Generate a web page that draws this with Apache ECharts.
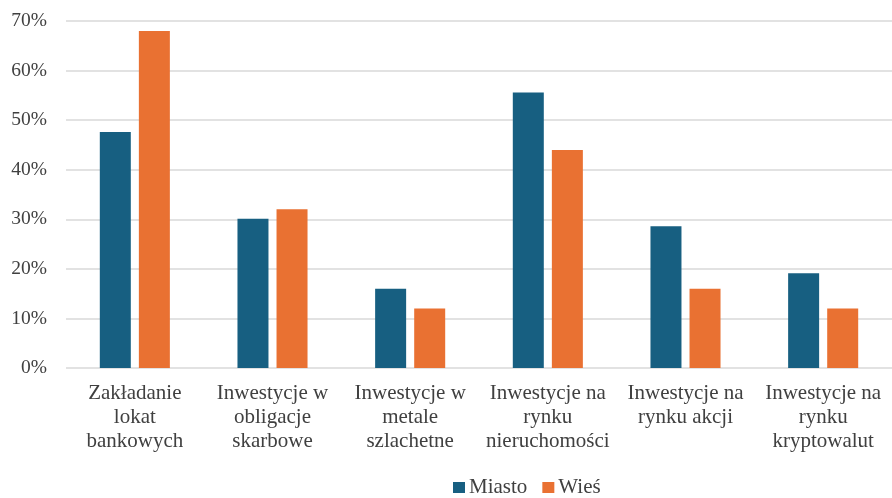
<!DOCTYPE html>
<html>
<head>
<meta charset="utf-8">
<script src="https://cdn.jsdelivr.net/npm/echarts@6/dist/echarts.min.js"></script>
<style>html,body{margin:0;padding:0;background:#fff}#c{width:892px;height:498px}</style>
</head>
<body>
<div id="c"></div>
<script>
var categories = ['Zakładanie\nlokat\nbankowych', 'Inwestycje w\nobligacje\nskarbowe', 'Inwestycje w\nmetale\nszlachetne', 'Inwestycje na\nrynku\nnieruchomości', 'Inwestycje na\nrynku akcji', 'Inwestycje na\nrynku\nkryptowalut'];
var miasto = [47.6, 30.1, 16, 55.6, 28.6, 19.1];
var wies = [68, 32, 12, 44, 16, 12];
var yTicks = {min: 0, max: 70, interval: 10};

var font = 'Liberation Serif, Times New Roman, serif';
var chart = echarts.init(document.getElementById('c'), null, {renderer: 'canvas'});
chart.setOption({
  animation: false,
  textStyle: {fontFamily: font},
  grid: {left: 66, right: 0, top: 21, bottom: 130},
  legend: {
    left: 453, top: 477, padding: 0,
    itemWidth: 12, itemHeight: 11, itemGap: 15,
    icon: 'rect',
    textStyle: {fontFamily: font, fontSize: 21, lineHeight: 21, color: '#404040', padding: [0, 0, 0, -1]},
    data: ['Miasto', 'Wieś']
  },
  xAxis: {
    type: 'category',
    data: categories,
    axisLine: {show: false},
    axisTick: {show: false},
    axisLabel: {fontFamily: font, fontSize: 21, color: '#404040', lineHeight: 24, margin: 13, interval: 0}
  },
  yAxis: {
    type: 'value',
    min: yTicks.min, max: yTicks.max, interval: yTicks.interval,
    axisLine: {show: false},
    axisTick: {show: false},
    splitLine: {lineStyle: {color: '#d9d9d9', width: 1.5}},
    axisLabel: {fontFamily: font, fontSize: 19.5, color: '#404040', margin: 19, formatter: '{value}%'}
  },
  series: [
    {name: 'Miasto', type: 'bar', data: miasto, barWidth: 31, barGap: '26%',
     itemStyle: {color: '#175F81'}},
    {name: 'Wieś', type: 'bar', data: wies, barWidth: 31,
     itemStyle: {color: '#E97132'}}
  ]
});
</script>
</body>
</html>
